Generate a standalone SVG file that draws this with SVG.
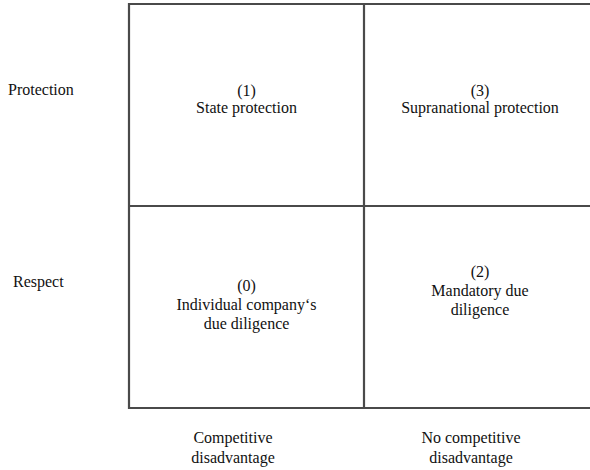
<svg xmlns="http://www.w3.org/2000/svg" width="590" height="470" viewBox="0 0 590 470">
<style>
.t{font-size:16px;fill:#111;}
.c{text-anchor:middle;}
.ln{stroke:#4a4a4a;stroke-width:2.2;fill:none;}
</style>
<rect width="590" height="470" fill="#fff"/>
<g id="grid">
<path class="ln" d="M129,409 V4 H592 M129,408 H592 M364,4 V409 M129,206 H592"/>
</g>
<g font-family="'Liberation Serif', 'DejaVu Serif', serif" class="t">
<g id="q1"><text class="c" x="246.5" y="96">(1)</text><text class="c" x="246.5" y="113">State protection</text></g>
<g id="q3"><text class="c" x="480" y="96">(3)</text><text class="c" x="480" y="113">Supranational protection</text></g>
<g id="q0"><text class="c" x="246.5" y="291">(0)</text><text class="c" x="246.5" y="310">Individual company‘s</text><text class="c" x="246.5" y="329">due diligence</text></g>
<g id="q2"><text class="c" x="480" y="277">(2)</text><text class="c" x="480" y="296">Mandatory due</text><text class="c" x="480" y="315">diligence</text></g>
<g id="labels">
<text x="8" y="95">Protection</text>
<text x="13" y="287">Respect</text>
<text class="c" x="233" y="443">Competitive</text>
<text class="c" x="233" y="463">disadvantage</text>
<text class="c" x="471" y="443">No competitive</text>
<text class="c" x="471" y="463">disadvantage</text>
</g>
</g>
</svg>
